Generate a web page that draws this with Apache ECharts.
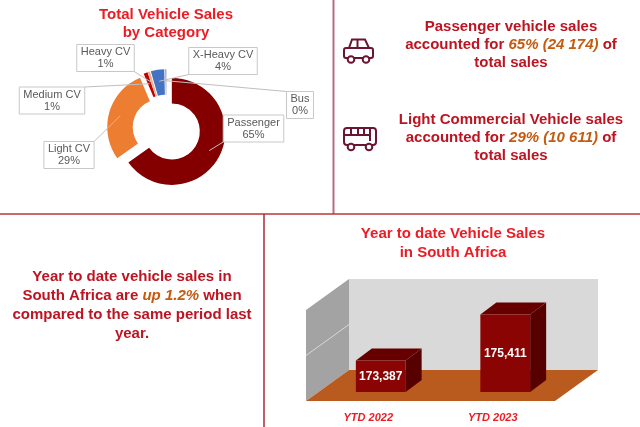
<!DOCTYPE html>
<html><head><meta charset="utf-8">
<script src="https://cdn.jsdelivr.net/npm/echarts@6/dist/echarts.min.js"></script>
<style>html,body{margin:0;padding:0;background:#fff}#c{width:640px;height:427px}</style>
</head><body><div id="c"></div>
<script>
// ---- data ----
const pieCategories = ['Passenger', 'Light CV', 'Medium CV', 'Heavy CV', 'X-Heavy CV', 'Bus'];
const pieValues = [24174, 10611, 450, 250, 1500, 150];
const ytdCategories = ['YTD 2022', 'YTD 2023'];
const ytdValues = [173387, 175411];
const ytdAxisTicks = [172000, 174000, 176000];

// ---- styles / layout ----
const FONT = 'Arial, "Liberation Sans", sans-serif';
const TITLE_RED = '#EC1C24';
const BODY_RED = '#BE1422';
const ORANGE = '#C55A11';
const pieColors = ['#840000', '#ED7D31', '#C00000', '#F4B183', '#4472C4', '#A5A5A5'];
const pieLabelPos = [[253.5, 128.5], [69, 155], [52, 100.5], [105.5, 58], [223, 61], [300, 105]];
const PIE_CENTER = [166.5, 128.7];
const PIE_RADIUS = [28, 53.5];
const EXPLODE = 6;
const ANCHOR_R = 42;

const total = pieValues.reduce((a, b) => a + b, 0);
const fmtSpace = v => v.toLocaleString('en-US').replace(/,/g, ' ');
const pct = i => Math.round(pieValues[i] / total * 100);
const upPct = ((ytdValues[1] / ytdValues[0] - 1) * 100).toFixed(1);

// mid angles of slices (clockwise from 12 o'clock)
let acc = 0;
const midAngles = pieValues.map(v => { const m = (acc + v / 2) / total * 2 * Math.PI; acc += v; return m; });
const sliceCenters = midAngles.map(m => [PIE_CENTER[0] + EXPLODE * Math.sin(m), PIE_CENTER[1] - EXPLODE * Math.cos(m)]);

const rich = {
  n: { fill: BODY_RED, fontWeight: 'bold', fontSize: 15, fontFamily: FONT },
  h: { fill: ORANGE, fontWeight: 'bold', fontStyle: 'italic', fontSize: 15, fontFamily: FONT }
};
function line(x, y, text, color, size) {
  return { type: 'text', x: x, y: y, silent: true, z: 10,
    style: { text: text, rich: rich, align: 'center', verticalAlign: 'middle',
      fill: color || BODY_RED, fontWeight: 'bold', fontSize: size || 15, fontFamily: FONT } };
}

// pie labels (boxes + leader lines)
const measureCtx = document.createElement('canvas').getContext('2d');
measureCtx.font = '11px Arial, "Liberation Sans", sans-serif';
const pieLabelGraphics = [];
pieCategories.forEach((name, i) => {
  const p = pct(i) + '%';
  const w = Math.max(measureCtx.measureText(name).width, measureCtx.measureText(p).width) + 8;
  const h = 27;
  const bx = pieLabelPos[i][0] - w / 2, by = pieLabelPos[i][1] - h / 2;
  const c = sliceCenters[i], m = midAngles[i];
  const ax = c[0] + ANCHOR_R * Math.sin(m), ay = c[1] - ANCHOR_R * Math.cos(m);
  const ex = Math.min(Math.max(ax, bx), bx + w), ey = Math.min(Math.max(ay, by), by + h);
  pieLabelGraphics.push(
    { type: 'line', silent: true, z: 10, shape: { x1: ax, y1: ay, x2: ex, y2: ey }, style: { stroke: '#BFBFBF', lineWidth: 1 } },
    { type: 'rect', silent: true, z: 11, shape: { x: bx, y: by, width: w, height: h }, style: { fill: '#fff', stroke: '#C8C8C8', lineWidth: 1 } },
    { type: 'text', silent: true, z: 12, x: pieLabelPos[i][0], y: pieLabelPos[i][1],
      style: { text: name + '\n' + p, align: 'center', verticalAlign: 'middle', fill: '#595959', fontSize: 11, lineHeight: 12, fontFamily: FONT } }
  );
});

const ICON = '#6B1535';
const graphics = [
  { type: 'line', silent: true, shape: { x1: 333.5, y1: 0, x2: 333.5, y2: 214 }, style: { stroke: '#B86A80', lineWidth: 2 } },
  { type: 'line', silent: true, shape: { x1: 0, y1: 214, x2: 640, y2: 214 }, style: { stroke: '#B8373A', lineWidth: 1.5 } },
  { type: 'line', silent: true, shape: { x1: 264, y1: 214, x2: 264, y2: 427 }, style: { stroke: '#A82A35', lineWidth: 1.5 } },
  line(166, 15, 'Total Vehicle Sales', TITLE_RED),
  line(166, 33, 'by Category', TITLE_RED),
  line(453, 234, 'Year to date Vehicle Sales', TITLE_RED),
  line(453, 253, 'in South Africa', TITLE_RED),
  line(511, 27, 'Passenger vehicle sales'),
  line(511, 45, '{n|accounted for }{h|' + pct(0) + '% (' + fmtSpace(pieValues[0]) + ')}{n| of}'),
  line(511, 63, 'total sales'),
  line(511, 120, 'Light Commercial Vehicle sales'),
  line(511, 138, '{n|accounted for }{h|' + pct(1) + '% (' + fmtSpace(pieValues[1]) + ')}{n| of}'),
  line(511, 156, 'total sales'),
  line(132, 277, 'Year to date vehicle sales in'),
  line(132, 296, '{n|South Africa are }{h|up ' + upPct + '%}{n| when}'),
  line(132, 315, 'compared to the same period last'),
  line(132, 334, 'year.'),
  { type: 'group', silent: true, children: [
    { type: 'rect', shape: { x: 344, y: 48, width: 29, height: 10, r: 2 }, style: { fill: 'none', stroke: ICON, lineWidth: 2 } },
    { type: 'polyline', shape: { points: [[349, 48], [352, 39.5], [365, 39.5], [369, 48]] }, style: { fill: 'none', stroke: ICON, lineWidth: 2 } },
    { type: 'line', shape: { x1: 357.5, y1: 39.5, x2: 357.5, y2: 48 }, style: { stroke: ICON, lineWidth: 2 } },
    { type: 'circle', shape: { cx: 351, cy: 59.5, r: 3.3 }, style: { fill: '#fff', stroke: ICON, lineWidth: 2 } },
    { type: 'circle', shape: { cx: 366, cy: 59.5, r: 3.3 }, style: { fill: '#fff', stroke: ICON, lineWidth: 2 } }
  ] },
  { type: 'group', silent: true, children: [
    { type: 'rect', shape: { x: 344, y: 128, width: 32, height: 17, r: 3 }, style: { fill: 'none', stroke: ICON, lineWidth: 2 } },
    { type: 'line', shape: { x1: 344, y1: 135, x2: 370, y2: 135 }, style: { stroke: ICON, lineWidth: 2 } },
    { type: 'line', shape: { x1: 351, y1: 128, x2: 351, y2: 135 }, style: { stroke: ICON, lineWidth: 2 } },
    { type: 'line', shape: { x1: 358, y1: 128, x2: 358, y2: 135 }, style: { stroke: ICON, lineWidth: 2 } },
    { type: 'line', shape: { x1: 364, y1: 128, x2: 364, y2: 135 }, style: { stroke: ICON, lineWidth: 2 } },
    { type: 'line', shape: { x1: 370, y1: 128, x2: 370, y2: 141 }, style: { stroke: ICON, lineWidth: 2 } },
    { type: 'circle', shape: { cx: 351, cy: 147, r: 3.3 }, style: { fill: '#fff', stroke: ICON, lineWidth: 2 } },
    { type: 'circle', shape: { cx: 369, cy: 147, r: 3.3 }, style: { fill: '#fff', stroke: ICON, lineWidth: 2 } }
  ] }
].concat(pieLabelGraphics);

// 3D geometry (pixels)
const BOX_DEPTH = [43, -31];
const BAR_OFFSET = [12.5, -9];
const BAR_DEPTH = [16, -12];
const BAR_WIDTH_RATIO = 0.4;

function renderBox(params, api) {
  const cs = params.coordSys;
  const dx = BOX_DEPTH[0], dy = BOX_DEPTH[1];
  const x = cs.x, y = cs.y, w = cs.width, h = cs.height;
  const children = [];
  if (params.dataIndex === 0) {
    children.push(
      { type: 'rect', shape: { x: x + dx, y: y + dy, width: w, height: h }, style: { fill: '#D9D9D9' } },
      { type: 'polygon', shape: { points: [[x, y], [x + dx, y + dy], [x + dx, y + h + dy], [x, y + h]] }, style: { fill: '#A3A3A3' } },
      { type: 'polygon', shape: { points: [[x, y + h], [x + w, y + h], [x + w + dx, y + h + dy], [x + dx, y + h + dy]] }, style: { fill: '#B95B1E' } }
    );
  }
  const v = api.value(1);
  if (v > ytdAxisTicks[0] && v < ytdAxisTicks[ytdAxisTicks.length - 1]) {
    const p = api.coord([0, v]);
    children.push({ type: 'line', shape: { x1: x, y1: p[1], x2: x + dx, y2: p[1] + dy }, style: { stroke: '#D8D8D8', lineWidth: 1 } });
  }
  return { type: 'group', children: children };
}

function renderBar(params, api) {
  const idx = api.value(0), v = api.value(1);
  const top = api.coord([idx, v]);
  const base = api.coord([idx, ytdAxisTicks[0]]);
  const bw = api.size([1, 0])[0] * BAR_WIDTH_RATIO;
  const x0 = top[0] - bw / 2 + BAR_OFFSET[0], x1 = x0 + bw;
  const yt = top[1] + BAR_OFFSET[1], yb = base[1] + BAR_OFFSET[1];
  const ddx = BAR_DEPTH[0], ddy = BAR_DEPTH[1];
  return { type: 'group', children: [
    { type: 'polygon', shape: { points: [[x1, yt], [x1 + ddx, yt + ddy], [x1 + ddx, yb + ddy], [x1, yb]] }, style: { fill: '#560000' } },
    { type: 'polygon', shape: { points: [[x0, yt], [x1, yt], [x1 + ddx, yt + ddy], [x0 + ddx, yt + ddy]] }, style: { fill: '#660000' } },
    { type: 'rect', shape: { x: x0, y: yt, width: bw, height: yb - yt }, style: { fill: '#8A0404' } },
    { type: 'text', style: { text: v.toLocaleString('en-US'), x: x0 + bw / 2, y: (yt + yb) / 2, align: 'center', verticalAlign: 'middle', fill: '#fff', fontWeight: 'bold', fontSize: 12, fontFamily: FONT } }
  ] };
}

const pieSeries = pieCategories.map((name, k) => ({
  type: 'pie', center: sliceCenters[k], radius: PIE_RADIUS, startAngle: 90, clockwise: true,
  silent: true, z: 2, emphasis: { disabled: true },
  label: { show: false }, labelLine: { show: false },
  data: pieCategories.map((n, i) => ({ name: n, value: pieValues[i],
    itemStyle: { color: i === k ? pieColors[i] : 'rgba(0,0,0,0)', borderWidth: 0 } }))
}));

const chart = echarts.init(document.getElementById('c'), null, { renderer: 'canvas' });
chart.setOption({
  animation: false,
  backgroundColor: '#fff',
  graphic: { elements: graphics },
  grid: { left: 306, right: 85, top: 310, bottom: 26, show: false },
  xAxis: { type: 'category', data: ytdCategories, axisLine: { show: false }, axisTick: { show: false }, splitLine: { show: false },
    axisLabel: { color: TITLE_RED, fontStyle: 'italic', fontWeight: 'bold', fontSize: 11, fontFamily: FONT, margin: 11 } },
  yAxis: { type: 'value', min: ytdAxisTicks[0], max: ytdAxisTicks[ytdAxisTicks.length - 1], interval: 2000, show: false, splitLine: { show: false } },
  series: pieSeries.concat([
    { type: 'custom', coordinateSystem: 'cartesian2d', silent: true, z: 1, renderItem: renderBox,
      data: ytdAxisTicks.map(t => [0, t]) },
    { type: 'custom', coordinateSystem: 'cartesian2d', silent: true, z: 3, renderItem: renderBar,
      data: ytdValues.map((v, i) => [i, v]) }
  ])
});
</script>
</body></html>
